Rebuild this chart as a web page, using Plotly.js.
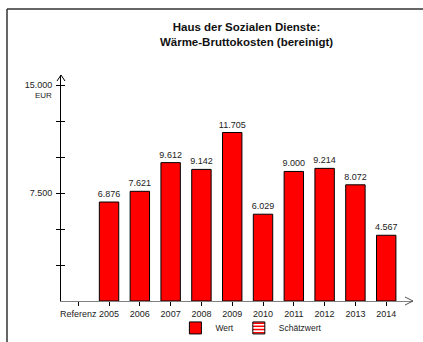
<!DOCTYPE html>
<html><head><meta charset="utf-8">
<script src="https://cdn.plot.ly/plotly-3.0.1.min.js"></script>
<style>html,body{margin:0;padding:0;background:#fff;overflow:hidden;}#c{width:423px;height:342px;}</style>
</head><body><div id="c"></div>
<script>
const categories = ["Referenz","2005","2006","2007","2008","2009","2010","2011","2012","2013","2014"];
const wert = [null,6876,7621,9612,9142,11705,6029,9000,9214,8072,4567];
const schaetzwert = [null,null,null,null,null,null,null,null,null,null,null];
const yTickVals = [2500,5000,7500,10000,12500,15000];
const yTickText = ["","","7.500","","","15.000"];
const titleText = "Haus der Sozialen Dienste:<br>Wärme-Bruttokosten (bereinigt)";

const idx = categories.map((c,i)=>i);
const font = {family:"Liberation Sans, Arial, sans-serif", size:9, color:"#222"};

const traces = [
  {type:"bar", name:"Wert", x:idx, y:wert, width:0.63,
   marker:{color:"#ff0000", line:{color:"#000", width:1}},
   texttemplate:"%{y:,.0f}", textposition:"outside", constraintext:"none",
   textfont:{family:font.family, size:9, color:"#222"}, cliponaxis:false, hoverinfo:"none"},
  {type:"bar", name:"Schätzwert", x:idx, y:schaetzwert, width:0.63,
   marker:{color:"#ffffff", line:{color:"#000", width:1}, pattern:{shape:"-", fgcolor:"#ff0000", bgcolor:"#ffffff", size:4, solidity:0.5}},
   hoverinfo:"none"},
  {type:"scatter", x:[], y:[], yaxis:"y2", showlegend:false, hoverinfo:"none"}
];

const layout = {
  width:423, height:342,
  margin:{l:61, r:10, t:75, b:41, autoexpand:false},
  paper_bgcolor:"#fff", plot_bgcolor:"#fff",
  font:font,
  separators:",.",
  showlegend:true,
  barmode:"overlay",
  title:{text:titleText, font:{family:font.family, size:11.5, color:"#111", weight:"bold"},
         x:0.527, xanchor:"center", y:0.91, yanchor:"top", xref:"paper", yref:"container"},
  xaxis:{range:[-0.56,10.87], tickvals:idx, ticktext:categories, showgrid:false, zeroline:false,
         showline:true, linecolor:"#808080", linewidth:1, ticks:"outside", ticklen:4, tickcolor:"#000",
         tickfont:{size:9, color:"#222"}, fixedrange:true},
  yaxis:{range:[0,15700], tickvals:yTickVals, ticktext:yTickText, showgrid:false, zeroline:false,
         showline:true, linecolor:"#000", linewidth:1, ticks:"outside", ticklen:4, tickcolor:"#000",
         tickfont:{size:9, color:"#222"}, ticklabelstandoff:2},
  yaxis2:{range:[0,15700], overlaying:"y", side:"left", tickvals:yTickVals, showticklabels:false,
          showgrid:false, zeroline:false, showline:false, ticks:"inside", ticklen:4, tickcolor:"#000"},
  legend:{orientation:"h", x:0.325, xanchor:"left", y:-0.055, yanchor:"top", bgcolor:"rgba(0,0,0,0)",
          font:{size:8.5, color:"#222"}, itemwidth:30, traceorder:"normal"},
  annotations:[
    {text:"EUR", xref:"paper", yref:"y", x:0, y:15000, xanchor:"right", yanchor:"top",
     xshift:-7, yshift:-4, showarrow:false, font:{size:8, color:"#222"}}
  ],
  shapes:[
    {type:"path", xref:"paper", yref:"paper", xsizemode:"pixel", ysizemode:"pixel", xanchor:0, yanchor:1,
     path:"M-4,-6 L0,0 L4,-6", line:{color:"#000", width:1}},
    {type:"path", xref:"paper", yref:"paper", xsizemode:"pixel", ysizemode:"pixel", xanchor:1, yanchor:0,
     path:"M-8,4 L0,0 L-8,-4", line:{color:"#555", width:1}},
    {type:"line", xref:"paper", yref:"paper", x0:-0.1534, x1:-0.1534, y0:-0.25, y1:1.292,
     line:{color:"#333", width:1.5}},
    {type:"line", xref:"paper", yref:"paper", x0:-0.1534, x1:1.03, y0:1.292, y1:1.292,
     line:{color:"#333", width:1.5}}
  ]
};
Plotly.newPlot("c", traces, layout, {staticPlot:true, displayModeBar:false});
</script></body></html>
